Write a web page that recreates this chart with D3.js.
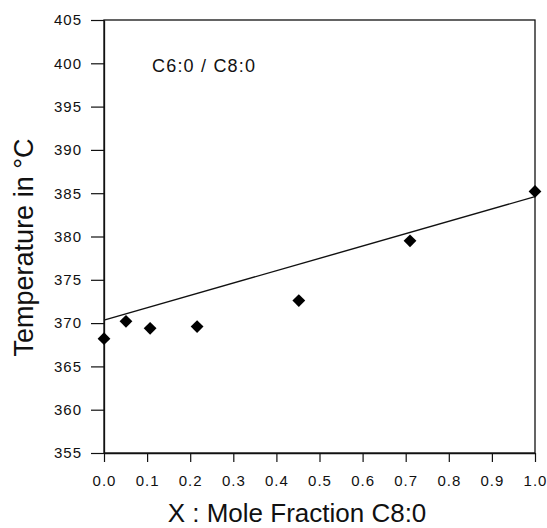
<!DOCTYPE html>
<html>
<head>
<meta charset="utf-8">
<script src="https://cdn.jsdelivr.net/npm/d3@7"></script>
<style>
  body { margin: 0; background: #fff; }
  text { font-family: "Liberation Sans", Arial, sans-serif; fill: #111; }
</style>
</head>
<body>
<svg id="chart" width="547" height="528"></svg>
<script>
// Measured points: mole fraction of C8:0 vs. temperature (°C)
const moleFraction = [0.0, 0.051, 0.107, 0.216, 0.452, 0.71, 1.0];
const temperature  = [368.2, 370.2, 369.4, 369.6, 372.6, 379.5, 385.2];

// Straight reference line between the pure components
const lineX = [0.0, 1.0];
const lineY = [370.35, 384.6];

const xTicks = [0.0, 0.1, 0.2, 0.3, 0.4, 0.5, 0.6, 0.7, 0.8, 0.9, 1.0];
const yTicks = [355, 360, 365, 370, 375, 380, 385, 390, 395, 400, 405];

const svg = d3.select("#chart");
const plot = { left: 104, right: 535, top: 20, bottom: 453 };

const x = d3.scaleLinear().domain([0, 1]).range([plot.left, plot.right]);
const y = d3.scaleLinear().domain([355, 405]).range([plot.bottom, plot.top]);

// Frame
svg.append("rect")
  .attr("x", plot.left).attr("y", plot.top)
  .attr("width", plot.right - plot.left).attr("height", plot.bottom - plot.top)
  .attr("fill", "none").attr("stroke", "#111").attr("stroke-width", 1.3);

// Axes
const xAxis = d3.axisBottom(x).tickValues(xTicks)
  .tickFormat(d3.format(".1f")).tickSizeOuter(0).tickSizeInner(9).tickPadding(13);
const gx = svg.append("g").attr("transform", `translate(0,${plot.bottom})`).call(xAxis);

const yAxis = d3.axisLeft(y).tickValues(yTicks)
  .tickFormat(d3.format("d")).tickSizeOuter(0).tickSizeInner(13).tickPadding(9);
const gy = svg.append("g").attr("transform", `translate(${plot.left},0)`).call(yAxis);

[gx, gy].forEach(g => {
  g.select(".domain").attr("stroke", "#111").attr("stroke-width", 1.3);
  g.selectAll(".tick line").attr("stroke", "#111").attr("stroke-width", 1.2);
  g.selectAll(".tick text")
    .style("font-size", "15px")
    .style("letter-spacing", "1px")
    .attr("fill", "#111");
});

// Reference line
svg.append("path")
  .datum(lineX.map((d, i) => [d, lineY[i]]))
  .attr("fill", "none").attr("stroke", "#111").attr("stroke-width", 1.4)
  .attr("d", d3.line().x(d => x(d[0])).y(d => y(d[1])));

// Diamond markers
const diamond = d3.symbol().type(d3.symbolSquare).size(82);
svg.append("g").selectAll("path")
  .data(moleFraction.map((d, i) => [d, temperature[i]]))
  .join("path")
  .attr("d", diamond)
  .attr("transform", d => `translate(${x(d[0])},${y(d[1])}) rotate(45)`)
  .attr("fill", "#000");

// Label inside plot
svg.append("text")
  .attr("x", 152).attr("y", 72)
  .style("font-size", "18px")
  .style("letter-spacing", "1.2px")
  .text("C6:0 / C8:0");

// Axis titles
svg.append("text")
  .attr("x", 297).attr("y", 522)
  .attr("text-anchor", "middle")
  .style("font-size", "26px")
  .text("X : Mole Fraction C8:0");

svg.append("text")
  .attr("transform", "translate(33,247.5) rotate(-90)")
  .attr("text-anchor", "middle")
  .style("font-size", "27px")
  .text("Temperature in °C");
</script>
</body>
</html>
